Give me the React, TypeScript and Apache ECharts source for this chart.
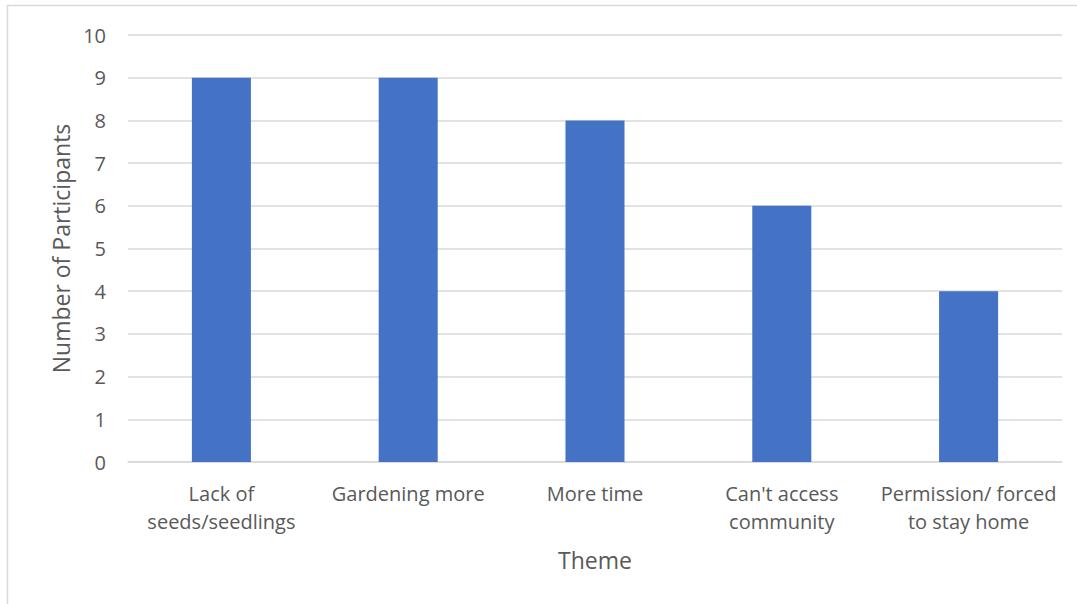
import React, { useEffect, useRef } from "react";
import * as echarts from "echarts";

const categories = [
  "Lack of\nseeds/seedlings",
  "Gardening more",
  "More time",
  "Can't access\ncommunity",
  "Permission/ forced\nto stay home",
];
const participants = [9, 9, 8, 6, 4];
const yTicks = { min: 0, max: 10, interval: 1 };

const FONT = "'Open Sans', 'Noto Sans', sans-serif";
const TEXT = "#595959";

export default function App() {
  const ref = useRef<HTMLDivElement>(null);
  useEffect(() => {
    if (!ref.current) return;
    const chart = echarts.init(ref.current, undefined, { renderer: "svg" });
    chart.setOption({
      animation: false,
      backgroundColor: "#ffffff",
      graphic: [
        {
          type: "rect",
          shape: { x: 7.5, y: 5.5, width: 1100, height: 700 },
          style: { fill: "none", stroke: "#d9d9d9", lineWidth: 1.5 },
          silent: true,
        },
      ],
      grid: { left: 128, right: 15, top: 35, bottom: 142, containLabel: false },
      xAxis: {
        type: "category",
        data: categories,
        name: "Theme",
        nameLocation: "middle",
        nameGap: 86,
        nameTextStyle: { color: TEXT, fontSize: 23, fontFamily: FONT },
        axisLine: { lineStyle: { color: "#d9d9d9", width: 1.5 } },
        axisTick: { show: false },
        axisLabel: {
          color: TEXT,
          fontSize: 20,
          fontFamily: FONT,
          lineHeight: 28,
          margin: 17,
          interval: 0,
        },
      },
      yAxis: {
        type: "value",
        min: yTicks.min,
        max: yTicks.max,
        interval: yTicks.interval,
        name: "Number of Participants",
        nameLocation: "middle",
        nameGap: 54,
        nameTextStyle: { color: TEXT, fontSize: 23, fontFamily: FONT },
        axisLine: { show: false },
        axisTick: { show: false },
        axisLabel: { color: TEXT, fontSize: 20, fontFamily: FONT, margin: 22 },
        splitLine: { lineStyle: { color: "#d9d9d9", width: 1.5 } },
      },
      series: [
        {
          type: "bar",
          data: participants,
          barWidth: "31.6%",
          itemStyle: { color: "#4472C4" },
        },
      ],
    });
    return () => chart.dispose();
  }, []);
  return (
    <div
      ref={ref}
      style={{ position: "fixed", left: 0, top: 0, width: 1077, height: 604 }}
    />
  );
}
